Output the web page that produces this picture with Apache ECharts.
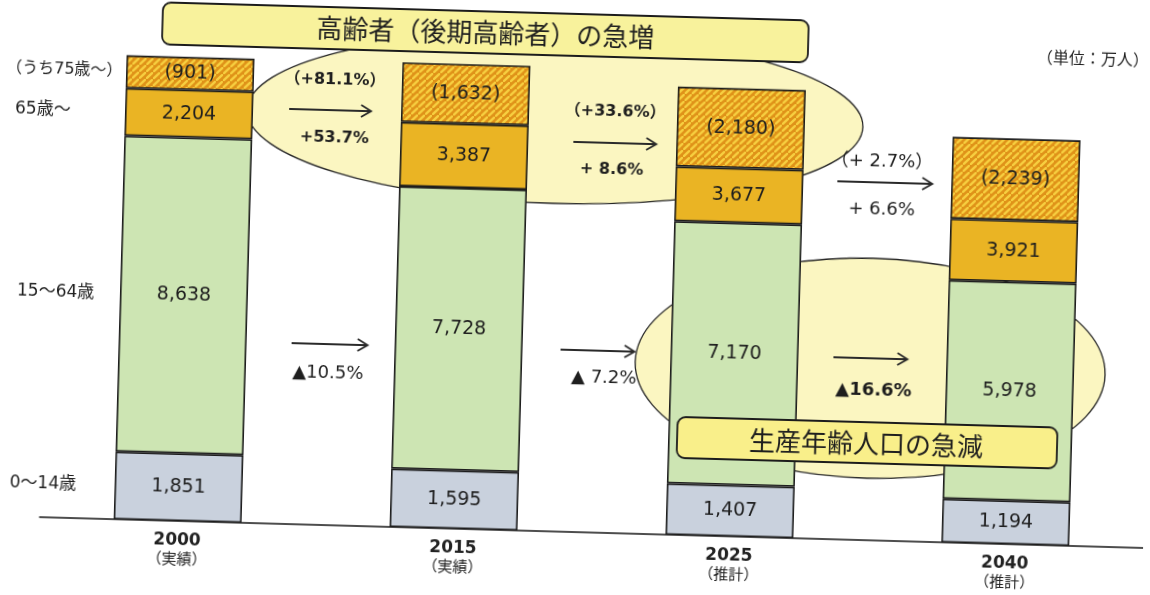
<!DOCTYPE html>
<html lang="ja">
<head>
<meta charset="utf-8">
<script src="https://cdn.jsdelivr.net/npm/echarts@6/dist/echarts.min.js"></script>
<style>
  html, body { margin: 0; padding: 0; background: #fff; overflow: hidden; }
  #chart {
    width: 1150px; height: 595px;
    transform: rotate(1.6deg);
    transform-origin: 575px 297.5px;
  }
</style>
</head>
<body>
<div id="chart"></div>
<script>
// Population by age group (unit: 10,000 people)
const years      = ['2000', '2015', '2025', '2040'];
const yearNotes  = ['実績', '実績', '推計', '推計'];
const children   = [1851, 1595, 1407, 1194];   // 0～14歳
const working    = [8638, 7728, 7170, 5978];   // 15～64歳
const elderly    = [2204, 3387, 3677, 3921];   // 65歳～ (total)
const over75     = [901, 1632, 2180, 2239];    // うち75歳～
const groupNames = ['0～14歳', '15～64歳', '65歳～', '（うち75歳～）'];

// Change between consecutive years
const over75Change  = ['（+81.1%）', '（+33.6%）', '（+ 2.7%）'];
const elderlyChange = ['+53.7%', '+ 8.6%', '+ 6.6%'];
const workingChange = ['▲10.5%', '▲ 7.2%', '▲16.6%'];

const titleTop    = '高齢者（後期高齢者）の急増';
const titleBottom = '生産年齢人口の急減';
const unitText    = '（単位：万人）';

// 65～74 segment = 65+ total minus the 75+ part drawn above it
const young65 = elderly.map((v, i) => v - over75[i]);

const fmt = v => v.toLocaleString('en-US');
const NUM_FONT = "'DejaVu Sans', 'Noto Sans CJK JP', sans-serif";
const JP_FONT = "'Noto Sans CJK JP', 'DejaVu Sans', sans-serif";

// diagonal stripe fill for the 75+ segment
function stripePattern() {
  const s = 7;
  const c = document.createElement('canvas');
  c.width = s; c.height = s;
  const g = c.getContext('2d');
  g.fillStyle = '#df9218';
  g.fillRect(0, 0, s, s);
  g.strokeStyle = '#f7cf40';
  g.lineWidth = 2.4;
  g.beginPath();
  g.moveTo(-1, s + 1); g.lineTo(s + 1, -1);
  g.moveTo(-s - 1, 1); g.lineTo(1, -s - 1);
  g.moveTo(s - 1, 2 * s + 1); g.lineTo(2 * s + 1, s - 1);
  g.stroke();
  return c;
}

const chart = echarts.init(document.getElementById('chart'), null, { renderer: 'canvas' });

const border = { borderColor: '#1c1c1c', borderWidth: 1.6 };
const barLabel = {
  show: true, position: 'inside',
  fontFamily: NUM_FONT, fontSize: 19, color: '#1e1e1e'
};

chart.setOption({
  animation: false,
  backgroundColor: '#ffffff',
  grid: { left: 46, right: 0, top: 20, bottom: 63 },
  xAxis: {
    type: 'category',
    data: years,
    axisTick: { show: false },
    axisLine: { lineStyle: { color: '#151515', width: 1.5 } },
    axisLabel: {
      margin: 11,
      formatter: (v, i) => `{y|${v}}\n{n|（${yearNotes[i]}）}`,
      rich: {
        y: { fontFamily: NUM_FONT, fontWeight: 'bold', fontSize: 17, lineHeight: 18, color: '#222' },
        n: { fontFamily: JP_FONT, fontSize: 15, lineHeight: 16, color: '#222' }
      }
    }
  },
  yAxis: { type: 'value', min: 0, max: 14000, show: false, splitLine: { show: false } },
  series: [
    {
      name: groupNames[0], type: 'bar', stack: 'pop', barWidth: 128, z: 3,
      data: children,
      itemStyle: Object.assign({ color: '#c9d1dd' }, border),
      label: Object.assign({}, barLabel, { formatter: p => fmt(p.value) })
    },
    {
      name: groupNames[1], type: 'bar', stack: 'pop', z: 3,
      data: working,
      itemStyle: Object.assign({ color: '#cde5b3' }, border),
      label: Object.assign({}, barLabel, { formatter: p => fmt(p.value) })
    },
    {
      name: groupNames[2], type: 'bar', stack: 'pop', z: 3,
      data: young65,
      itemStyle: Object.assign({ color: '#eab424' }, border),
      label: Object.assign({}, barLabel, { formatter: p => fmt(elderly[p.dataIndex]) })
    },
    {
      name: groupNames[3], type: 'bar', stack: 'pop', z: 3,
      data: over75,
      itemStyle: Object.assign({ color: { image: stripePattern(), repeat: 'repeat' } }, border),
      label: Object.assign({}, barLabel, { formatter: p => '(' + fmt(p.value) + ')' })
    }
  ]
});

// ---- annotations ----
function px(i, v) { return chart.convertToPixel({ gridIndex: 0 }, [i, v]); }

function arrow(x1, x2, y) {
  return {
    type: 'group', z: 20,
    children: [
      { type: 'line', shape: { x1: x1, y1: y, x2: x2, y2: y },
        style: { stroke: '#2a2a2a', lineWidth: 1.8 } },
      { type: 'polyline', shape: { points: [[x2 - 10, y - 6], [x2, y], [x2 - 10, y + 6]] },
        style: { stroke: '#2a2a2a', lineWidth: 1.8, fill: null } }
    ]
  };
}

function text(x, y, str, size, weight, family, align) {
  return {
    type: 'text', z: 20, x: x, y: y,
    style: {
      text: str, fontSize: size, fontWeight: weight || 'normal',
      fontFamily: family || NUM_FONT, fill: '#1e1e1e',
      align: align || 'center', verticalAlign: 'middle'
    }
  };
}

const g = [];

// pale highlight ellipses behind the bars
g.push({ type: 'ellipse', z: 0, shape: { cx: 550, cy: 119, rx: 308, ry: 85 },
  style: { fill: '#fbf6c1', stroke: '#262626', lineWidth: 1.3 } });
g.push({ type: 'ellipse', z: 0, shape: { cx: 872, cy: 360, rx: 235, ry: 110 },
  style: { fill: '#fbf6c1', stroke: '#262626', lineWidth: 1.3 } });

// headline boxes
g.push({ type: 'rect', z: 15, shape: { x: 155, y: 14, width: 646, height: 42, r: 8 },
  style: { fill: '#f8f29c', stroke: '#1c1c1c', lineWidth: 1.8 } });
g.push(text(478, 35, titleTop, 26, 'normal', JP_FONT));
g.push({ type: 'rect', z: 15, shape: { x: 681, y: 414, width: 380, height: 41, r: 8 },
  style: { fill: '#f9ef8a', stroke: '#1c1c1c', lineWidth: 1.8 } });
g.push(text(870, 435, titleBottom, 26, 'normal', JP_FONT));

g.push(text(1086, 44, unitText, 16, 'normal', JP_FONT));

// group names beside the first bar, centred on each segment
const segs = [
  [0, children[0]],
  [children[0], children[0] + working[0]],
  [children[0] + working[0], children[0] + working[0] + young65[0]],
  [children[0] + working[0] + young65[0], children[0] + working[0] + elderly[0]]
];
const nameX = [15, 17, 10, 0];
const nameSize = [17, 17, 17, 16];
segs.forEach((s, k) => {
  const y = px(0, (s[0] + s[1]) / 2)[1];
  g.push(text(nameX[k], y, groupNames[k], nameSize[k], 'normal', NUM_FONT, 'left'));
});

// change annotations between consecutive bars
const upperLayout = [
  { t1: [7, 87], a: [-38, 44, 117], t2: [8, 145], s1: 16, s2: 16, w: 'bold' },
  { t1: [12, 111], a: [-29, 54, 142], t2: [10, 169], s1: 16, s2: 16, w: 'bold' },
  { t1: [4, 153], a: [-40, 55, 174], t2: [5, 201], s1: 18, s2: 18, w: 'normal' }
];
const lowerLayout = [
  { a: [-29, 47, 351], t: [8, 380], s: 18, w: 'normal' },
  { a: [-36, 38, 350], t: [8, 377], s: 18, w: 'normal' },
  { a: [-39, 35, 350], t: [2, 382], s: 18, w: 'bold' }
];
for (let i = 0; i < 3; i++) {
  const mid = (px(i, 0)[0] + px(i + 1, 0)[0]) / 2;
  const u = upperLayout[i];
  g.push(text(mid + u.t1[0], u.t1[1], over75Change[i], u.s1, u.w, NUM_FONT));
  g.push(arrow(mid + u.a[0], mid + u.a[1], u.a[2]));
  g.push(text(mid + u.t2[0], u.t2[1], elderlyChange[i], u.s2, u.w));
  const l = lowerLayout[i];
  g.push(arrow(mid + l.a[0], mid + l.a[1], l.a[2]));
  g.push(text(mid + l.t[0], l.t[1], workingChange[i], l.s, l.w));
}

chart.setOption({ graphic: { elements: g } });
</script>
</body>
</html>
